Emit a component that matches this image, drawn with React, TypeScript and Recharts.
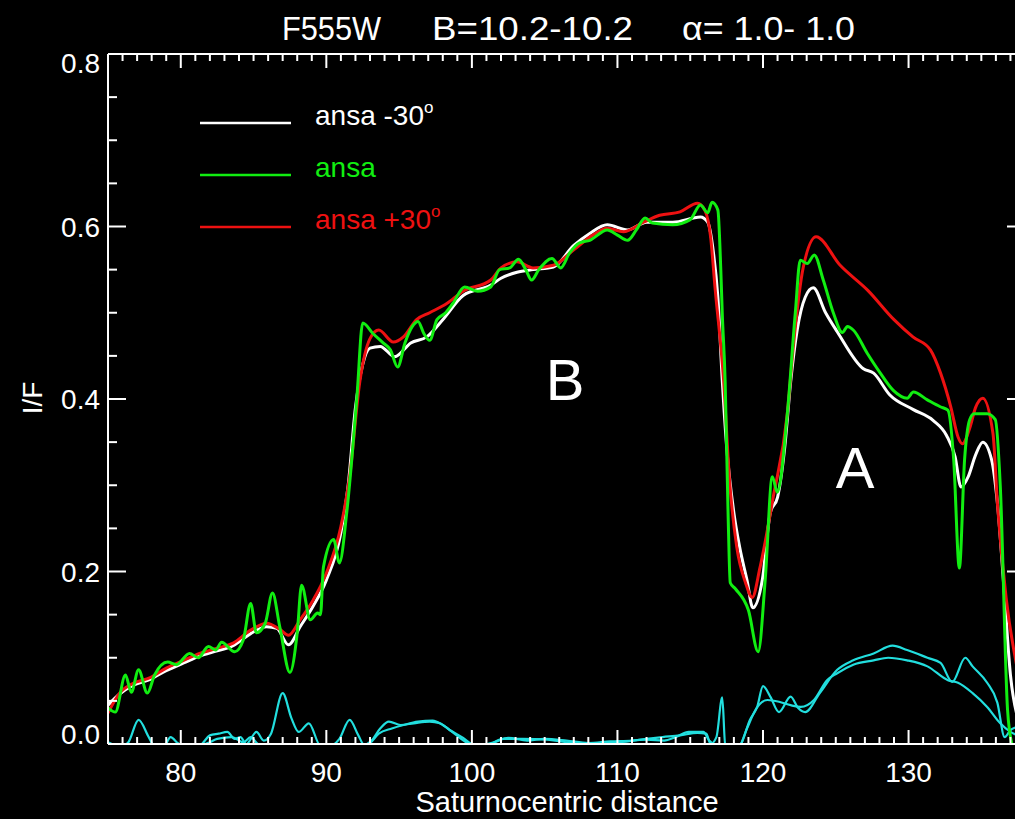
import React from "react";
import { LineChart, Line, XAxis, YAxis } from "recharts";

type Pt = [number, number];

// I/F profiles, [saturnocentric distance, I/F]
const ansaMinus30: Pt[] = [
  [75, 0.045], [75.8, 0.058], [76.7, 0.068], [77.9, 0.075], [79, 0.085], [80.2, 0.094],
  [81.3, 0.102], [82.5, 0.108], [83.6, 0.114], [84.8, 0.128], [85.9, 0.136], [86.6, 0.134],
  [87.4, 0.115], [88.2, 0.136], [89.1, 0.16], [90, 0.19], [91, 0.245], [91.5, 0.3],
  [92, 0.39], [92.5, 0.44], [93, 0.459], [93.7, 0.461], [94.7, 0.449], [95.8, 0.465],
  [96.9, 0.472], [98, 0.492], [99.4, 0.52], [101.3, 0.532], [102, 0.54], [103.1, 0.547],
  [104.2, 0.55], [105.6, 0.553], [107, 0.578], [108.1, 0.592], [109.3, 0.602], [110.7, 0.596],
  [112, 0.605], [113.8, 0.605], [115.7, 0.611], [116.2, 0.605], [116.6, 0.569], [116.9, 0.518],
  [117.2, 0.422], [117.5, 0.345], [118, 0.268], [118.4, 0.228], [118.9, 0.19], [119.3, 0.158],
  [119.95, 0.19], [120.5, 0.268], [121, 0.286], [121.5, 0.345], [121.9, 0.42], [122.35, 0.48],
  [122.9, 0.518], [123.45, 0.529], [124.3, 0.5], [125.1, 0.478], [126.9, 0.435], [127.6, 0.43],
  [128.7, 0.405], [130.3, 0.388], [131.7, 0.375], [132.6, 0.358], [133.2, 0.333], [133.6, 0.298],
  [134.1, 0.31], [134.6, 0.335], [135.1, 0.35], [135.7, 0.33], [136.1, 0.28], [136.6, 0.17],
  [137, 0.08], [137.5, 0.03],
];

const ansaCenter: Pt[] = [
  [75, 0.042], [75.5, 0.037], [76.2, 0.08], [76.6, 0.06], [77.1, 0.086], [77.7, 0.059],
  [78.2, 0.08], [79.1, 0.095], [79.7, 0.092], [80.6, 0.105], [81.2, 0.1], [81.9, 0.113],
  [82.4, 0.109], [82.8, 0.118], [83.7, 0.107], [84.3, 0.121], [84.8, 0.163], [85.2, 0.129],
  [85.8, 0.14], [86.3, 0.175], [86.8, 0.136], [87.5, 0.083], [88, 0.129], [88.3, 0.184],
  [88.9, 0.144], [89.4, 0.152], [89.6, 0.15], [89.8, 0.205], [90.5, 0.237], [90.9, 0.21],
  [91.4, 0.268], [92.1, 0.402], [92.5, 0.488], [93.2, 0.476], [93.9, 0.465], [94.4, 0.457],
  [94.9, 0.437], [95.4, 0.465], [95.9, 0.484], [96.3, 0.49], [96.7, 0.476], [97.1, 0.468],
  [97.6, 0.492], [98.2, 0.5], [98.7, 0.511], [99.5, 0.53], [100.4, 0.525], [101.3, 0.53],
  [101.9, 0.55], [102.6, 0.552], [103.2, 0.562], [103.7, 0.55], [104.1, 0.538], [104.6, 0.55],
  [105.5, 0.563], [106.1, 0.552], [106.7, 0.569], [107.4, 0.581], [108.1, 0.584], [109.3, 0.596],
  [110, 0.59], [110.7, 0.584], [111.3, 0.596], [111.9, 0.61], [112.4, 0.604], [113.8, 0.602],
  [115, 0.608], [115.7, 0.625], [116.2, 0.616], [116.5, 0.628], [116.9, 0.619], [117.1, 0.55],
  [117.2, 0.5], [117.4, 0.42], [117.6, 0.268], [117.75, 0.187], [118.1, 0.18], [119, 0.155],
  [119.67, 0.107], [120.15, 0.19], [120.64, 0.31], [120.98, 0.292], [121.67, 0.383], [122.22, 0.5],
  [122.56, 0.561], [123.04, 0.557], [123.52, 0.567], [124.14, 0.538], [124.83, 0.5], [125.45, 0.477],
  [125.8, 0.484], [126.2, 0.48], [127.16, 0.453], [128.06, 0.43], [128.95, 0.41], [129.91, 0.401],
  [130.33, 0.408], [131.29, 0.399], [132.18, 0.391], [132.7, 0.387], [133.1, 0.33], [133.49, 0.204],
  [133.85, 0.33], [134.2, 0.376], [134.5, 0.383], [135.4, 0.383], [135.96, 0.376], [136.3, 0.3],
  [136.8, 0.04], [137.1, 0.0],
];

const ansaPlus30: Pt[] = [
  [75, 0.036], [75.8, 0.059], [76.7, 0.07], [77.9, 0.077], [79, 0.088], [80.2, 0.097],
  [81.3, 0.105], [82.5, 0.111], [83.6, 0.117], [84.8, 0.132], [85.9, 0.14], [86.8, 0.133],
  [87.4, 0.126], [88.2, 0.144], [89.1, 0.167], [90, 0.198], [91, 0.252], [91.6, 0.31],
  [92.3, 0.42], [93, 0.47], [93.6, 0.48], [94.6, 0.466], [95.3, 0.472], [96.2, 0.492],
  [97.1, 0.5], [98.3, 0.511], [99.4, 0.525], [101.3, 0.538], [102, 0.552], [103.1, 0.559],
  [104.2, 0.552], [105.6, 0.555], [107, 0.573], [108.3, 0.59], [109.3, 0.598], [110.4, 0.594],
  [111.8, 0.605], [112.9, 0.613], [114.3, 0.617], [115.5, 0.627], [116, 0.619], [116.4, 0.588],
  [116.7, 0.53], [117.3, 0.42], [117.7, 0.306], [118.2, 0.228], [118.8, 0.187], [119.26, 0.17],
  [119.8, 0.205], [120.7, 0.286], [121.67, 0.383], [122.08, 0.46], [122.77, 0.553], [123.65, 0.588],
  [125.3, 0.555], [127.2, 0.526], [129, 0.492], [130.3, 0.472], [131.5, 0.457], [132.2, 0.43],
  [132.9, 0.391], [133.4, 0.356], [133.7, 0.348], [134.2, 0.366], [134.6, 0.39], [135.1, 0.401],
  [135.8, 0.36], [136.1, 0.28], [136.7, 0.17], [137.5, 0.085],
];

// differences between the ansa profiles (cyan)
const diffA: Pt[] = [
  [75, 0.002], [75.9, -0.003], [76.4, 0.002], [77.1, 0.028], [77.8, 0.008], [78.2, -0.003],
  [78.8, -0.004], [79.3, 0.008], [79.8, 0.001], [80.5, -0.004], [81.3, -0.002], [82, 0.01],
  [82.6, 0.012], [83.2, 0.014], [83.7, 0.006], [84.1, 0.008], [84.5, 0.0], [85.2, 0.014],
  [85.7, 0.004], [86.2, 0.012], [87, 0.059], [87.6, 0.03], [88.1, 0.014], [88.8, 0.024],
  [89.6, -0.002], [90.3, -0.002], [90.9, 0.006], [91.6, 0.028], [92.2, 0.01], [92.6, -0.001],
  [93.1, 0.004], [93.7, 0.018], [94.3, 0.026], [95.1, 0.022], [96, 0.024], [97.1, 0.026],
  [97.8, 0.024], [98.5, 0.016], [99.4, 0.007], [100, 0.0], [101, -0.002], [102.1, 0.006],
  [103.5, 0.006], [105.2, 0.005], [106.5, 0.002], [108, 0.001], [109.5, 0.003], [111, 0.004],
  [112, 0.006], [113.1, 0.008], [114.3, 0.01], [115.5, 0.013], [116.1, 0.012], [116.4, 0.0],
  [116.8, 0.008], [117.2, 0.054], [117.4, 0.0], [117.8, -0.005], [118.4, -0.002], [119.1, 0.028],
  [119.6, 0.043], [120, 0.067], [120.5, 0.055], [121.1, 0.037], [121.9, 0.055], [122.4, 0.042],
  [122.9, 0.037], [123.9, 0.059], [125.1, 0.086], [126.2, 0.097], [127.6, 0.105], [128.9, 0.114],
  [129.9, 0.109], [131.3, 0.1], [132.2, 0.094], [133, 0.072], [133.9, 0.1], [134.4, 0.09],
  [135.4, 0.071], [136.1, 0.048], [136.6, 0.008], [137, 0.016], [137.5, 0.02],
];

const diffB: Pt[] = [
  [75, -0.004], [78, -0.004], [81, -0.003], [82, 0.002], [82.5, 0.006], [83.5, 0.008],
  [84.3, 0.002], [84.8, 0.008], [85.3, 0.0], [86, -0.003], [89, -0.004], [92, -0.003],
  [92.9, 0.0], [93.6, 0.012], [94.5, 0.018], [95.3, 0.022], [96.3, 0.026], [97.3, 0.027],
  [98, 0.022], [98.8, 0.012], [99.6, 0.002], [100.3, -0.002], [101.5, 0.002], [102.5, 0.007],
  [103.8, 0.004], [105, 0.006], [106.5, 0.004], [108, 0.001], [110, 0.002], [112, 0.005],
  [113.2, 0.004], [114, 0.008], [114.9, 0.014], [115.9, 0.014], [116.3, 0.004], [116.6, 0.0],
  [117.5, -0.004], [118.3, -0.004], [118.9, 0.018], [119.5, 0.04], [120.3, 0.051], [121.1, 0.049],
  [121.9, 0.045], [122.6, 0.043], [123.5, 0.051], [124.4, 0.074], [125.1, 0.082], [126.2, 0.092],
  [127.6, 0.097], [128.6, 0.1], [129.9, 0.097], [131.3, 0.09], [132.7, 0.074], [133.4, 0.071],
  [134.4, 0.059], [135.4, 0.043], [136.3, 0.024], [137, 0.014], [137.5, 0.01],
];

const xTickLabels = [80, 90, 100, 110, 120, 130];
const yTickLabels = ["0.0", "0.2", "0.4", "0.6", "0.8"];
const legendLabels = ["ansa -30", "ansa", "ansa +30"];
const titleParts = ["F555W", "B=10.2-10.2", "α= 1.0- 1.0"];

const WHITE = "#ffffff";
const GREEN = "#11ee11";
const RED = "#ee1111";
const CYAN = "#22dede";
const FONT = "'Liberation Sans', Arial, Helvetica, sans-serif";

const xTicks = Array.from({ length: 64 }, (_, i) => 75 + i);
const yTicks = Array.from({ length: 17 }, (_, i) => i * 0.05);

const toRows = (pts: Pt[]) => pts.map(([x, y]) => ({ x, y }));

const isMajorX = (v: number) => Math.round(v) % 10 === 0;
const isMajorY = (v: number) => Math.round(v * 20) % 4 === 0;

const BottomTick = (props: any) => {
  const { x, y, payload } = props;
  const v = Math.round(payload.value);
  const major = isMajorX(v);
  return (
    <g>
      <line x1={x} x2={x} y1={y} y2={y - (major ? 14 : 7)} stroke={WHITE} strokeWidth={2} />
      {major && xTickLabels.includes(v) && (
        <text x={x} y={y + 38} textAnchor="middle" fill={WHITE} fontSize={28} fontFamily={FONT}>
          {v}
        </text>
      )}
    </g>
  );
};

const TopTick = (props: any) => {
  const { x, y, payload } = props;
  const major = isMajorX(payload.value);
  return <line x1={x} x2={x} y1={y} y2={y + (major ? 14 : 7)} stroke={WHITE} strokeWidth={2} />;
};

const LeftTick = (props: any) => {
  const { x, y, payload } = props;
  const v = payload.value;
  const major = isMajorY(v);
  const idx = Math.round(v * 5);
  // end labels are pulled inside the frame
  const shift = idx === 0 ? -10 : idx === yTickLabels.length - 1 ? 9 : 0;
  return (
    <g>
      <line x1={x} x2={x + (major ? 18 : 9)} y1={y} y2={y} stroke={WHITE} strokeWidth={2} />
      {major && (
        <text x={x - 8} y={y + 10 + shift} textAnchor="end" fill={WHITE} fontSize={28} fontFamily={FONT}>
          {yTickLabels[idx]}
        </text>
      )}
    </g>
  );
};

const RightTick = (props: any) => {
  const { x, y, payload } = props;
  const major = isMajorY(payload.value);
  return <line x1={x} x2={x - (major ? 18 : 9)} y1={y} y2={y} stroke={WHITE} strokeWidth={2} />;
};

const axisLine = { stroke: WHITE, strokeWidth: 2 };

export default function App() {
  const legendColors = [WHITE, GREEN, RED];
  return (
    <div
      style={{
        position: "absolute",
        left: 0,
        top: 0,
        width: 1015,
        height: 819,
        overflow: "hidden",
        background: "#000",
      }}
    >
      <LineChart width={1040} height={819} margin={{ top: 53, right: 14, bottom: 74, left: 107 }}>
        <XAxis
          xAxisId="b"
          type="number"
          dataKey="x"
          domain={[75, 138]}
          allowDataOverflow
          ticks={xTicks}
          interval={0}
          height={1}
          tickSize={0}
          tickMargin={0}
          tickLine={false}
          axisLine={axisLine}
          tick={BottomTick}
        />
        <XAxis
          xAxisId="t"
          orientation="top"
          type="number"
          dataKey="x"
          domain={[75, 138]}
          allowDataOverflow
          ticks={xTicks}
          interval={0}
          height={1}
          tickSize={0}
          tickMargin={0}
          tickLine={false}
          axisLine={axisLine}
          tick={TopTick}
        />
        <YAxis
          yAxisId="l"
          type="number"
          domain={[0, 0.8]}
          allowDataOverflow
          ticks={yTicks}
          interval={0}
          width={1}
          tickSize={0}
          tickMargin={0}
          tickLine={false}
          axisLine={axisLine}
          tick={LeftTick}
        />
        <YAxis
          yAxisId="r"
          orientation="right"
          type="number"
          domain={[0, 0.8]}
          allowDataOverflow
          ticks={yTicks}
          interval={0}
          width={1}
          tickSize={0}
          tickMargin={0}
          tickLine={false}
          axisLine={axisLine}
          tick={RightTick}
        />
        <Line xAxisId="b" yAxisId="l" data={toRows(diffA)} dataKey="y" type="monotone" stroke={CYAN} strokeWidth={2.2} dot={false} isAnimationActive={false} />
        <Line xAxisId="b" yAxisId="l" data={toRows(diffB)} dataKey="y" type="monotone" stroke={CYAN} strokeWidth={2.2} dot={false} isAnimationActive={false} />
        <Line xAxisId="b" yAxisId="l" data={toRows(ansaMinus30)} dataKey="y" type="monotone" stroke={WHITE} strokeWidth={3} dot={false} isAnimationActive={false} />
        <Line xAxisId="b" yAxisId="l" data={toRows(ansaPlus30)} dataKey="y" type="monotone" stroke={RED} strokeWidth={3} dot={false} isAnimationActive={false} />
        <Line xAxisId="b" yAxisId="l" data={toRows(ansaCenter)} dataKey="y" type="monotone" stroke={GREEN} strokeWidth={3} dot={false} isAnimationActive={false} />
      </LineChart>

      <svg
        width={1015}
        height={819}
        style={{ position: "absolute", left: 0, top: 0, pointerEvents: "none" }}
        fontFamily={FONT}
      >
        <text x={282} y={40} fill={WHITE} fontSize={34} textLength={99} lengthAdjust="spacingAndGlyphs">{titleParts[0]}</text>
        <text x={432} y={40} fill={WHITE} fontSize={34} textLength={201} lengthAdjust="spacingAndGlyphs">{titleParts[1]}</text>
        <text x={682} y={40} fill={WHITE} fontSize={34} textLength={173} lengthAdjust="spacingAndGlyphs">{titleParts[2]}</text>

        <text x={567} y={812} fill={WHITE} fontSize={29} textAnchor="middle">Saturnocentric distance</text>
        <text x={0} y={0} fill={WHITE} fontSize={28} textAnchor="middle" transform="translate(42 398) rotate(-90)">I/F</text>

        {legendLabels.map((label, i) => {
          const ly = 123 + i * 52;
          return (
            <g key={label}>
              <line x1={200} x2={291} y1={ly} y2={ly} stroke={legendColors[i]} strokeWidth={2.5} />
              <text x={315} y={ly + 2} fill={legendColors[i]} fontSize={28}>
                {label}
                {i !== 1 && (
                  <tspan fontSize={17} dy={-12}>o</tspan>
                )}
              </text>
            </g>
          );
        })}

        <text x={565} y={400} fill={WHITE} fontSize={58} textAnchor="middle">B</text>
        <text x={855} y={488} fill={WHITE} fontSize={58} textAnchor="middle">A</text>
      </svg>
    </div>
  );
}
